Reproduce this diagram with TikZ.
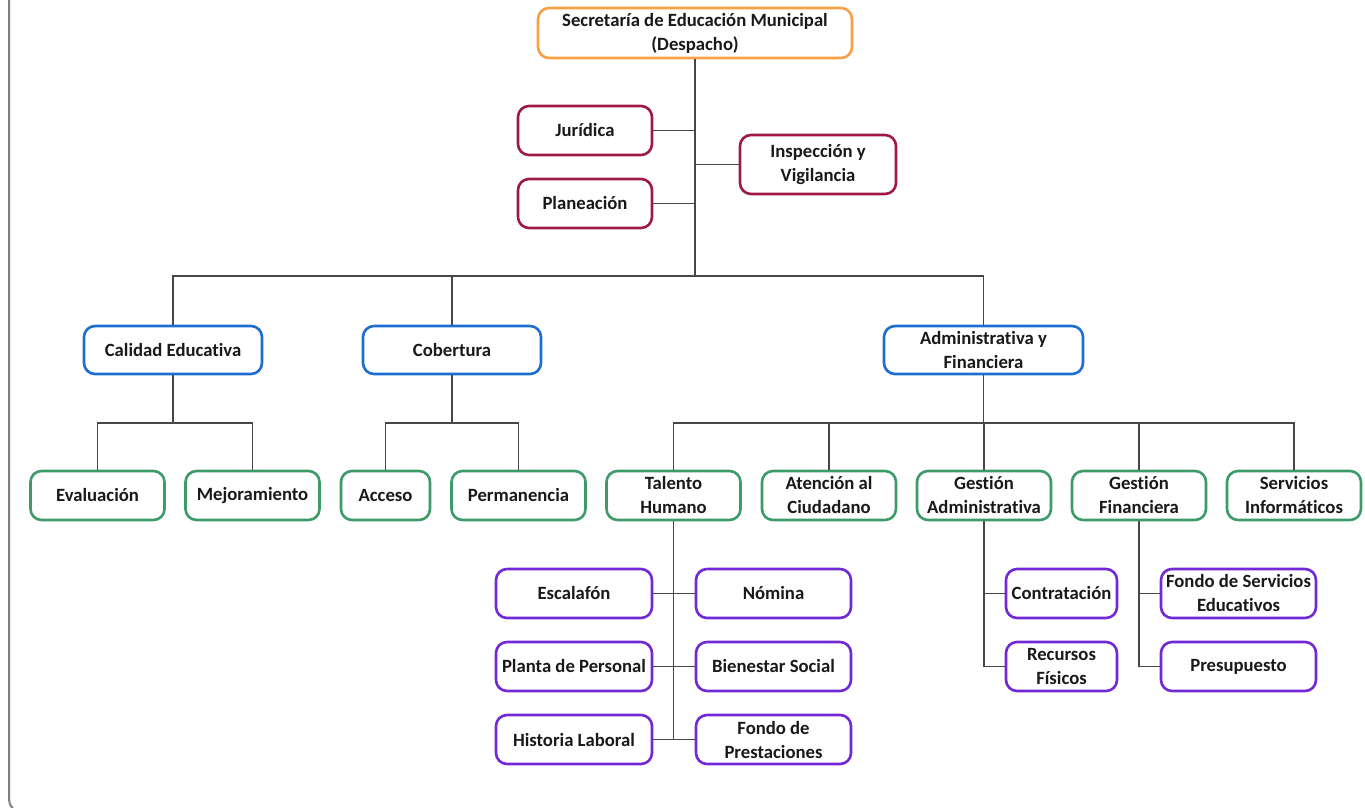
\documentclass[tikz,border=0pt]{standalone}
\usepackage{fontspec}
\setmainfont[Ligatures={NoCommon}]{Carlito}
\definecolor{orangeC}{RGB}{247,160,70}
\definecolor{maroonC}{RGB}{160,25,70}
\definecolor{blueC}{RGB}{30,110,210}
\definecolor{greenC}{RGB}{60,155,105}
\definecolor{purpleC}{RGB}{115,40,215}
\definecolor{txtC}{RGB}{25,25,25}
\begin{document}
\begin{tikzpicture}[x=1pt,y=-1pt,
  box/.style={draw, rounded corners=11pt, line width=2.6pt, fill=white,
    minimum width=134pt, minimum height=49pt, inner sep=0pt, align=center,
    font=\fontsize{18.7}{24}\selectfont\bfseries, text=txtC},
  orangebox/.style={box, draw=orangeC},
  redbox/.style={box, draw=maroonC},
  bluebox/.style={box, draw=blueC, minimum width=178pt, minimum height=48pt},
  greenbox/.style={box, draw=greenC},
  purplebox/.style={box, draw=purpleC, minimum width=156pt},
  conn/.style={draw=black!72, line width=1.4pt}]
\useasboundingbox (0,0) rectangle (1365,808);
% outer frame fragment
\draw[draw=black!50, line width=2pt] (9,0) -- (9,796) .. controls (9,803) and (10,806) .. (13,808);

% nodes
\node[orangebox, minimum width=314pt, minimum height=50pt] (top) at (695,33) {Secretaría de Educación Municipal\\(Despacho)};
\node[redbox] (jur) at (585,130.5) {Jurídica};
\node[redbox, minimum width=156pt, minimum height=59pt] (insp) at (818,164.5) {Inspección y\\Vigilancia};
\node[redbox] (plan) at (585,203.5) {Planeación};

\node[bluebox] (cal) at (173,350) {Calidad Educativa};
\node[bluebox] (cob) at (452,350) {Cobertura};
\node[bluebox, minimum width=199pt] (adm) at (983.5,350) {Administrativa y\\Financiera};

\node[greenbox] (eva) at (97.5,495.5) {Evaluación};
\node[greenbox] (mej) at (252.5,495.5) {Mejoramiento};
\node[greenbox, minimum width=89pt] (acc) at (385.5,495.5) {Acceso};
\node[greenbox] (per) at (518.5,495.5) {Permanencia};
\node[greenbox] (tal) at (673.5,495.5) {Talento\\Humano};
\node[greenbox] (ate) at (829,495.5) {Atención al\\Ciudadano};
\node[greenbox] (gadm) at (984,495.5) {Gestión\\Administrativa};
\node[greenbox] (gfin) at (1139,495.5) {Gestión\\Financiera};
\node[greenbox] (serv) at (1294,495.5) {Servicios\\Informáticos};

\node[purplebox] (esc) at (574,593.5) {Escalafón};
\node[purplebox, minimum width=155pt] (nom) at (773.5,593.5) {Nómina};
\node[purplebox] (pla) at (574,666.5) {Planta de Personal};
\node[purplebox, minimum width=155pt] (bie) at (773.5,666.5) {Bienestar Social};
\node[purplebox] (his) at (574,739.5) {Historia Laboral};
\node[purplebox, minimum width=155pt] (fon) at (773.5,739.5) {Fondo de\\Prestaciones};

\node[purplebox, minimum width=111pt] (con) at (1061.5,593.5) {Contratación};
\node[purplebox, minimum width=111pt] (rec) at (1061.5,666.5) {Recursos\\Físicos};
\node[purplebox, minimum width=155pt] (fse) at (1238.5,593.5) {Fondo de Servicios\\Educativos};
\node[purplebox, minimum width=155pt] (pre) at (1238.5,666.5) {Presupuesto};

% connectors
\coordinate (bus1) at (0,276);
\coordinate (bus2) at (0,423);
\draw[conn] (top.south) -- (top.south |- bus1);
\draw[conn] (jur.east) -- (jur.east -| top.south);
\draw[conn] (insp.west) -- (insp.west -| top.south);
\draw[conn] (plan.east) -- (plan.east -| top.south);
\draw[conn] (cal.north) -- (cal.north |- bus1) -- (adm.north |- bus1) -- (adm.north);
\draw[conn] (cob.north) -- (cob.north |- bus1);

\draw[conn] (cal.south) -- (cal.south |- bus2);
\draw[conn] (eva.north) -- (eva.north |- bus2) -- (mej.north |- bus2) -- (mej.north);
\draw[conn] (cob.south) -- (cob.south |- bus2);
\draw[conn] (acc.north) -- (acc.north |- bus2) -- (per.north |- bus2) -- (per.north);
\draw[conn] (adm.south) -- (adm.south |- bus2);
\draw[conn] (tal.north) -- (tal.north |- bus2) -- (serv.north |- bus2) -- (serv.north);
\draw[conn] (ate.north) -- (ate.north |- bus2);
\draw[conn] (gadm.north) -- (gadm.north |- bus2);
\draw[conn] (gfin.north) -- (gfin.north |- bus2);

\draw[conn] (tal.south) -- (tal.south |- his.east);
\draw[conn] (esc.east) -- (nom.west);
\draw[conn] (pla.east) -- (bie.west);
\draw[conn] (his.east) -- (fon.west);

\draw[conn] (gadm.south) |- (rec.west);
\draw[conn] (gadm.south |- con.west) -- (con.west);
\draw[conn] (gfin.south) |- (pre.west);
\draw[conn] (gfin.south |- fse.west) -- (fse.west);
\end{tikzpicture}
\end{document}
